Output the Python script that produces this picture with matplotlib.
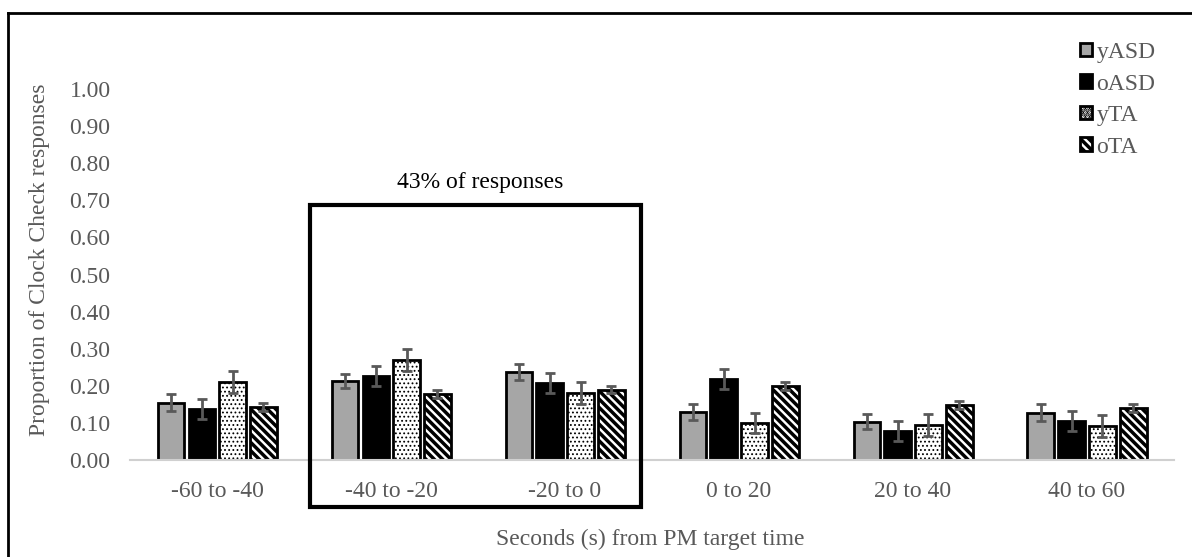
import matplotlib
matplotlib.use("Agg")
import matplotlib.pyplot as plt
import matplotlib.patches as mpatches
from matplotlib.lines import Line2D
import numpy as np

plt.rcParams["font.family"] = ["Liberation Serif", "DejaVu Serif"]

# data
categories = ["-60 to -40", "-40 to -20", "-20 to 0", "0 to 20", "20 to 40", "40 to 60"]
groups = ["yASD", "oASD", "yTA", "oTA"]

yASD = [0.154, 0.213, 0.237, 0.130, 0.103, 0.127]
oASD = [0.137, 0.226, 0.207, 0.218, 0.078, 0.105]
yTA = [0.210, 0.270, 0.180, 0.100, 0.094, 0.092]
oTA = [0.143, 0.178, 0.190, 0.200, 0.148, 0.140]

yASD_err = [0.023, 0.020, 0.022, 0.022, 0.020, 0.023]
oASD_err = [0.027, 0.027, 0.027, 0.027, 0.027, 0.026]
yTA_err = [0.030, 0.030, 0.030, 0.028, 0.030, 0.030]
oTA_err = [0.012, 0.011, 0.009, 0.010, 0.011, 0.011]

yticks = [0.0, 0.1, 0.2, 0.3, 0.4, 0.5, 0.6, 0.7, 0.8, 0.9, 1.0]

series = [yASD, oASD, yTA, oTA]
errors = [yASD_err, oASD_err, yTA_err, oTA_err]
faces = ["#a6a6a6", "black", "white", "white"]
hatches = [None, None, "....", "\\\\\\\\"]
hatch_lw = [1.0, 1.0, 0.8, 2.5]

GREY = "#595959"
FS = 17

fig = plt.figure(figsize=(11.92, 5.57), dpi=100)
ax = fig.add_axes([0.1091, 0.1741, 0.8758, 0.666])

# frame line (top and left edges visible in the reference)
fy = 1 - 12.5 / 557
fx = 8 / 1192
fig.add_artist(Line2D([fx, 1], [fy, fy], color="black", lw=2, transform=fig.transFigure))
fig.add_artist(Line2D([fx, fx], [0, fy], color="black", lw=2, transform=fig.transFigure))

x = np.arange(len(categories))
width = 0.15
step = 0.178
for i, (vals, errs) in enumerate(zip(series, errors)):
    plt.rcParams["hatch.linewidth"] = hatch_lw[i]
    pos = x + (i - 1.5) * step
    ax.bar(pos, vals, width, color=faces[i], edgecolor="black", linewidth=2,
           hatch=hatches[i], label=groups[i], zorder=2)
    ax.errorbar(pos, vals, yerr=errs, fmt="none", ecolor=GREY, elinewidth=2,
                capsize=3.5, capthick=2, zorder=3)

ax.set_xlim(-0.5, len(categories) - 0.5)
ax.set_ylim(0, 1.0)
ax.set_yticks(yticks)
ax.set_yticklabels([f"{t:.2f}" for t in yticks])
ax.set_xticks(x)
ax.set_xticklabels(categories)
ax.tick_params(axis="both", length=0, labelsize=FS, labelcolor=GREY)
ax.tick_params(axis="x", pad=15)
ax.tick_params(axis="y", pad=14)
for s in ["top", "right", "left"]:
    ax.spines[s].set_visible(False)
ax.spines["bottom"].set_color("#d0d0d0")
ax.spines["bottom"].set_linewidth(1.5)

ax.set_ylabel("Proportion of Clock Check responses", fontsize=FS, color=GREY)
ax.yaxis.set_label_coords(-0.077, 0.54)
ax.set_xlabel("Seconds (s) from PM target time", fontsize=FS, color=GREY)
ax.xaxis.set_label_coords(0.4985, -0.186)

# highlight box around the two central bins
box = mpatches.Rectangle((0.534, -0.127), 1.9, 0.814, transform=ax.transData,
                         fill=False, edgecolor="black", linewidth=3,
                         clip_on=False, zorder=4)
ax.add_patch(box)
ax.text(1.51, 0.747, "43% of responses", ha="center", va="center",
        fontsize=FS, color="black")

leg = fig.legend(loc="upper left", bbox_to_anchor=(1080 / 1192, 1 - 42 / 557),
                 frameon=False, fontsize=FS, handlelength=0.5, handleheight=0.5,
                 handletextpad=0.2, labelspacing=0.445, borderpad=0, borderaxespad=0)
for t in leg.get_texts():
    t.set_color(GREY)

fig.savefig("out.png", dpi=100)
